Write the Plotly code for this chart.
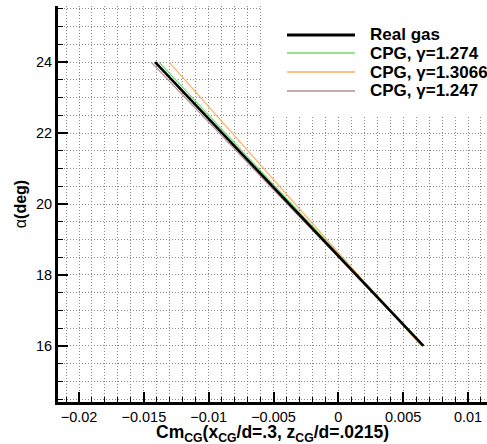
import plotly.graph_objects as go

alpha = [16, 18, 20, 22, 24]
cm_real = [0.00656, 0.00140, -0.00378, -0.00897, -0.01413]
cm_g1274 = [0.00662, 0.00150, -0.00360, -0.00872, -0.01382]
cm_g13066 = [0.00640, 0.00155, -0.00330, -0.00815, -0.01305]
cm_g1247 = [0.00655, 0.00132, -0.00392, -0.00918, -0.01444]

names = ["Real gas", "CPG, γ=1.274", "CPG, γ=1.3066", "CPG, γ=1.247"]
colors = ["#000000", "#6fdc6f", "#ffad5c", "#b48c8c"]
widths = [2.6, 1.2, 1.2, 1.2]
series = [cm_real, cm_g1274, cm_g13066, cm_g1247]

FONT = "Liberation Sans, Arial, Helvetica"

fig = go.Figure()
# draw colored lines first, black last (on top)
for i in [1, 2, 3, 0]:
    fig.add_trace(go.Scatter(
        x=series[i], y=alpha, mode="lines", name=names[i],
        line=dict(color=colors[i], width=widths[i]),
        showlegend=False,
    ))

grid_kw = dict(gridcolor="#8a8a8a", gridwidth=1, griddash="1px,2px")

fig.update_xaxes(
    range=[-0.02162, 0.011465], dtick=0.005, tick0=0,
    showline=True, linecolor="black", linewidth=3,
    ticks="inside", ticklen=10, tickwidth=2, tickcolor="black",
    showgrid=True, zeroline=False,
    tickfont=dict(family=FONT, size=14.5, color="black"),
    minor=dict(dtick=0.001, ticks="inside", ticklen=5, tickwidth=1, tickcolor="black",
               showgrid=True, **grid_kw),
    **grid_kw,
)
fig.update_yaxes(
    range=[14.42, 25.58], dtick=2, tick0=0,
    showline=True, linecolor="black", linewidth=3,
    ticks="inside", ticklen=10, tickwidth=2, tickcolor="black",
    showgrid=True, zeroline=False,
    tickfont=dict(family=FONT, size=14.5, color="black"),
    minor=dict(dtick=0.5, ticks="inside", ticklen=5, tickwidth=1, tickcolor="black",
               showgrid=True, **grid_kw),
    title=dict(text="α<b>(deg)</b>",
               font=dict(family=FONT, size=16, color="black"),
               standoff=6),
    **grid_kw,
)

# x axis title placed as annotation for exact positioning
fig.add_annotation(
    text="<b>Cm<sub>CG</sub>(x<sub>CG</sub>/d=.3, z<sub>CG</sub>/d=.0215)</b>",
    xref="paper", yref="paper", x=0.5, y=-0.049, xanchor="center", yanchor="top",
    showarrow=False, borderpad=0, font=dict(family=FONT, size=17.5, color="black"),
)

# white area behind the legend
fig.add_shape(type="rect", xref="paper", yref="paper",
              x0=0.4755, x1=1.01, y0=0.7197, y1=1.03,
              fillcolor="white", line=dict(width=0), layer="above")

# legend entries
leg_y = [0.9268, 0.8813, 0.8333, 0.7854]
for i in range(4):
    fig.add_shape(type="line", xref="paper", yref="paper",
                  x0=0.5338, x1=0.6923, y0=leg_y[i], y1=leg_y[i],
                  line=dict(color=colors[i], width=3 if i == 0 else 1.5), layer="above")
    fig.add_annotation(text="<b>%s</b>" % names[i], xref="paper", yref="paper",
                       x=0.7226, y=leg_y[i], xanchor="left", yanchor="middle",
                       showarrow=False, font=dict(family=FONT, size=17, color="black"))

fig.update_layout(
    width=487, height=444,
    margin=dict(l=58, r=0, t=6, b=42),
    plot_bgcolor="white", paper_bgcolor="white",
    showlegend=False,
)

fig.write_html("out.html")
